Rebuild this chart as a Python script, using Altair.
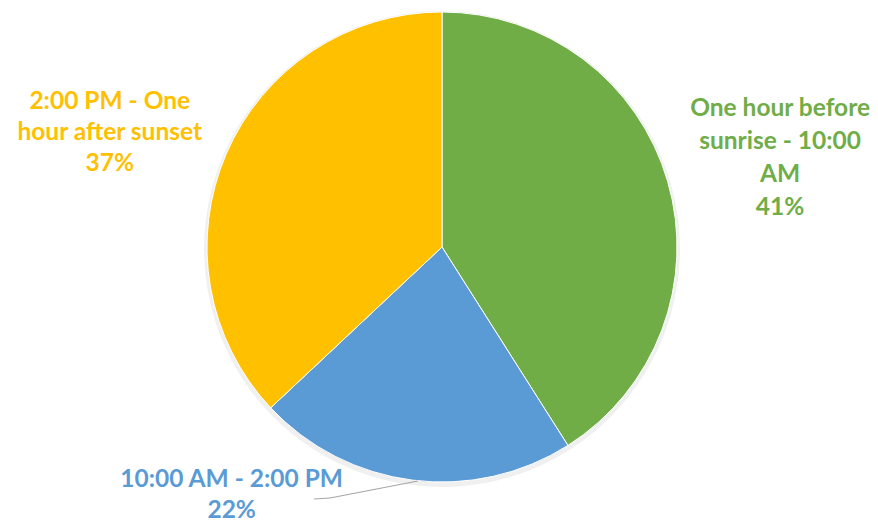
import altair as alt
import pandas as pd

categories = ["One hour before\nsunrise - 10:00\nAM", "10:00 AM - 2:00 PM", "2:00 PM - One\nhour after sunset"]
shares = [41, 22, 37]
colors = ["#70AD47", "#5B9BD5", "#FFC000"]

df = pd.DataFrame({
    "cat": categories,
    "share": shares,
    "order": list(range(len(categories))),
})
df["label"] = [c + "\n" + f"{s}%" for c, s in zip(categories, shares)]

CX, CY, R = 434, 239, 235
FONT = "Lato"

base = alt.Chart(df).encode(
    theta=alt.Theta("share:Q", stack=True),
    order=alt.Order("order:Q"),
    color=alt.Color("cat:N", scale=alt.Scale(domain=categories, range=colors), legend=None),
)

shadow = alt.Chart(df).mark_arc(outerRadius=R + 3, color="#000000", opacity=0.06).encode(
    theta=alt.Theta("share:Q", stack=True),
    order=alt.Order("order:Q"),
    x=alt.value(CX), y=alt.value(CY + 2),
)

pie = base.mark_arc(outerRadius=R, stroke="white", strokeWidth=1).encode(
    x=alt.value(CX), y=alt.value(CY)
)

txt_common = dict(font=FONT, fontWeight="bold", fontSize=24.5,
                  align="center", baseline="middle", lineBreak="\n")


def label_layer(idx, radius, dx, dy, lh):
    return base.mark_text(radius=radius, dx=dx, dy=dy, lineHeight=lh, **txt_common).encode(
        x=alt.value(CX), y=alt.value(CY),
        text="label:N",
        opacity=alt.condition(alt.datum.order == idx, alt.value(1), alt.value(0)),
    )


lab_green = label_layer(0, 350, 2, -40, 33)
lab_blue = label_layer(1, 250, -179, -15, 31)
lab_yellow = label_layer(2, 350, -11, -6, 31)

leader1 = alt.Chart(df).mark_rule(color="#A6A6A6", strokeWidth=1.2).encode(
    x=alt.value(306), x2=alt.value(322), y=alt.value(491), y2=alt.value(490)
).transform_filter(alt.datum.order == 1)
leader2 = alt.Chart(df).mark_rule(color="#A6A6A6", strokeWidth=1.2).encode(
    x=alt.value(322), x2=alt.value(410), y=alt.value(490), y2=alt.value(473)
).transform_filter(alt.datum.order == 1)

chart = alt.layer(shadow, pie, leader1, leader2, lab_green, lab_blue, lab_yellow).properties(
    width=862, height=513,
    autosize=alt.AutoSizeParams(type="none"),
    padding=0,
    background="white",
).configure_view(stroke=None)

chart.save("out.html", embed_options={"renderer": "svg", "actions": False})
